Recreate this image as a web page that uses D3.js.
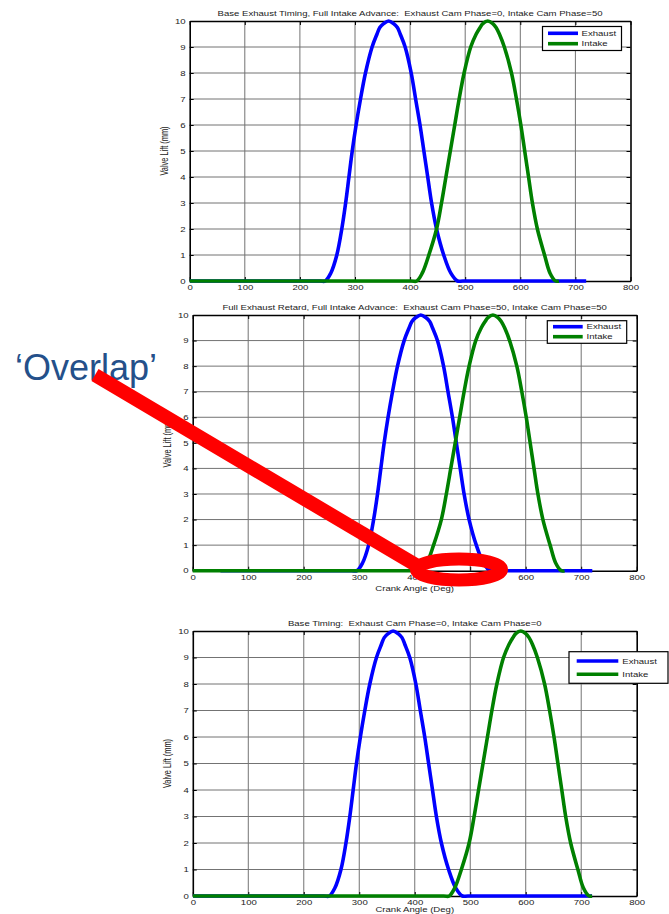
<!DOCTYPE html>
<html>
<head>
<meta charset="utf-8">
<script src="https://cdn.jsdelivr.net/npm/d3@7"></script>
<style>
  html, body { margin: 0; padding: 0; background: #fff; }
  svg { display: block; }
  text { font-family: "Liberation Sans", Arial, Helvetica, sans-serif; white-space: pre; }
</style>
</head>
<body>
<svg id="fig" width="669" height="914"></svg>
<script>
// Valve lift profiles at zero cam phase: crank angle (deg) and lift (mm)
const exhaustAngle = [0, 236, 246, 256, 267, 276, 283, 289, 295, 302, 310, 319, 331, 340, 345, 352, 361,
                      370, 377, 382, 391, 402, 410, 418, 425, 432, 439, 448, 461, 474, 486, 496, 720];
const exhaustLift  = [0, 0, 0, 0.3, 1, 2, 3, 4, 5, 6, 7, 8, 9, 9.5, 9.75, 9.9, 10,
                      9.9, 9.75, 9.5, 9, 8, 7, 6, 5, 4, 3, 2, 1, 0.3, 0, 0, 0];
const intakeAngle  = [0, 452, 462, 472, 484, 498, 507, 515, 523, 531, 539, 548, 560, 570, 577, 582, 591,
                      600, 606, 612, 621, 634, 643, 651, 658, 665, 672, 681, 694, 704, 714, 720];
const intakeLift   = [0, 0, 0, 0.3, 1, 2, 3, 4, 5, 6, 7, 8, 9, 9.5, 9.75, 9.9, 10,
                      9.9, 9.75, 9.5, 9, 8, 7, 6, 5, 4, 3, 2, 1, 0.3, 0, 0];

// One plot per cam phasing case
const plotTitles = [
  "Base Exhaust Timing, Full Intake Advance:  Exhaust Cam Phase=0, Intake Cam Phase=50",
  "Full Exhaust Retard, Full Intake Advance:  Exhaust Cam Phase=50, Intake Cam Phase=50",
  "Base Timing:  Exhaust Cam Phase=0, Intake Cam Phase=0"
];
const exhaustPhase = [0, 50, 0];   // retard shifts later
const intakePhase  = [50, 50, 0];  // advance shifts earlier
const showXLabel   = [false, true, true];

const seriesNames  = ["Exhaust", "Intake"];
const seriesColors = ["#0000ff", "#008000"];
const xTicks = [0, 100, 200, 300, 400, 500, 600, 700, 800];
const yTicks = [0, 1, 2, 3, 4, 5, 6, 7, 8, 9, 10];
const cycleEnd = 720;
const xLabel = "Crank Angle (Deg)";
const yLabel = "Valve Lift (mm)";

// Placement of each plot on the page
const layouts = [
  { l: 189.7, r: 630.5, t: 21,  b: 281,   xlab: 20, legend: { x: 542.5, y: 26.5,  w: 79,  h: 24,   lineY: [33.3, 43.7],   lx: 548,   lw: 30,   tx: 581.5 } },
  { l: 192.7, r: 636.7, t: 315, b: 570.7, xlab: 20, legend: { x: 547.3, y: 320.7, w: 79.4, h: 22.6, lineY: [326.7, 336.7], lx: 553,   lw: 29.7, tx: 586.5 } },
  { l: 192.8, r: 636.7, t: 631, b: 896,   xlab: 16, legend: { x: 569,   y: 651.7, w: 99,  h: 31.6, lineY: [661, 674.3],   lx: 576.7, lw: 41.6, tx: 622.3 } }
];

const stretch = 1.37;   // horizontal stretch of the plot lettering
const fontSize = 7;
const textColor = "#222";
const gridColor = "#737373";

const svg = d3.select("#fig");
svg.append("rect").attr("width", 669).attr("height", 914).attr("fill", "#fff");

function stretchedText(parent, x, y, str, anchor) {
  return parent.append("text")
    .attr("transform", `translate(${x},${y}) scale(${stretch},1)`)
    .attr("text-anchor", anchor || "middle")
    .attr("font-size", fontSize)
    .attr("fill", textColor)
    .text(str);
}

function drawPlot(i) {
  const L = layouts[i];
  const x = d3.scaleLinear().domain([0, 800]).range([L.l, L.r]);
  const y = d3.scaleLinear().domain([0, 10]).range([L.b, L.t]);
  const g = svg.append("g");

  // grid
  g.append("g").selectAll("line").data(xTicks.slice(1, -1)).join("line")
    .attr("x1", d => x(d)).attr("x2", d => x(d))
    .attr("y1", y(0)).attr("y2", y(10))
    .attr("stroke", gridColor).attr("stroke-width", 1);
  g.append("g").selectAll("line").data(yTicks.slice(1, -1)).join("line")
    .attr("y1", d => y(d)).attr("y2", d => y(d))
    .attr("x1", x(0)).attr("x2", x(800))
    .attr("stroke", gridColor).attr("stroke-width", 1);

  // axes box with inward ticks on all sides
  const tick = 4;
  const bottom = g.append("g").attr("transform", `translate(0,${L.b})`)
    .call(d3.axisBottom(x).tickValues(xTicks).tickSizeInner(-tick).tickSizeOuter(0).tickPadding(4.5));
  const top = g.append("g").attr("transform", `translate(0,${L.t})`)
    .call(d3.axisTop(x).tickValues(xTicks).tickSizeInner(-tick).tickSizeOuter(0).tickFormat(""));
  const left = g.append("g").attr("transform", `translate(${L.l},0)`)
    .call(d3.axisLeft(y).tickValues(yTicks).tickSizeInner(-tick).tickSizeOuter(0).tickPadding(4));
  const right = g.append("g").attr("transform", `translate(${L.r},0)`)
    .call(d3.axisRight(y).tickValues(yTicks).tickSizeInner(-tick).tickSizeOuter(0).tickFormat(""));

  [bottom, top, left, right].forEach(a => {
    a.select(".domain").attr("stroke", "#000").attr("stroke-width", 1.6);
    a.selectAll(".tick line").attr("stroke", "#000").attr("stroke-width", 1);
    a.selectAll("text").attr("font-size", fontSize).attr("fill", textColor)
      .attr("font-family", "'Liberation Sans', Arial, sans-serif");
  });
  bottom.selectAll(".tick text").attr("transform", `scale(${stretch},1)`);
  left.selectAll(".tick text").attr("x", -4 / stretch).attr("transform", `scale(${stretch},1)`);

  // lift curves, limited to one 720 degree cycle
  const clipId = "cycle" + i;
  g.append("clipPath").attr("id", clipId).append("rect")
    .attr("x", x(0)).attr("width", x(cycleEnd) - x(0))
    .attr("y", L.t - 8).attr("height", L.b - L.t + 16);

  const exhaust = exhaustAngle.map((a, k) => [a + exhaustPhase[i], exhaustLift[k]]);
  const intake  = intakeAngle.map((a, k) => [a - intakePhase[i], intakeLift[k]]);
  const line = d3.line().x(d => x(d[0])).y(d => y(d[1])).curve(d3.curveCatmullRom.alpha(0.5));

  const curves = g.append("g").attr("clip-path", `url(#${clipId})`);
  [exhaust, intake].forEach((pts, s) => {
    curves.append("path").datum(pts)
      .attr("d", line)
      .attr("fill", "none")
      .attr("stroke", seriesColors[s])
      .attr("stroke-width", 3.6)
      .attr("stroke-linejoin", "round");
  });

  // title and labels
  stretchedText(g, (L.l + L.r) / 2, L.t - 5, plotTitles[i]);
  g.append("text")
    .attr("transform", `translate(${L.l - 22},${(L.t + L.b) / 2}) scale(${stretch},1) rotate(-90)`)
    .attr("text-anchor", "middle")
    .attr("font-size", 7.4)
    .attr("fill", textColor)
    .text(yLabel);
  if (showXLabel[i]) {
    stretchedText(g, (L.l + L.r) / 2, L.b + L.xlab, xLabel);
  }

  // legend
  const lg = L.legend;
  const leg = g.append("g");
  leg.append("rect")
    .attr("x", lg.x).attr("y", lg.y).attr("width", lg.w).attr("height", lg.h)
    .attr("fill", "#fff").attr("stroke", "#000").attr("stroke-width", 1.2);
  seriesNames.forEach((name, s) => {
    leg.append("line")
      .attr("x1", lg.lx).attr("x2", lg.lx + lg.lw)
      .attr("y1", lg.lineY[s]).attr("y2", lg.lineY[s])
      .attr("stroke", seriesColors[s]).attr("stroke-width", 3.6);
    stretchedText(leg, lg.tx, lg.lineY[s] + 2.5, name, "start");
  });
}

[0, 1, 2].forEach(drawPlot);

// Annotation pointing at the valve overlap in the middle plot
const note = svg.append("g");
note.append("text")
  .attr("x", 15).attr("y", 380)
  .attr("font-size", 36)
  .attr("fill", "#24508a")
  .text("\u2018Overlap\u2019");
note.append("line")
  .attr("x1", 95).attr("y1", 375)
  .attr("x2", 421).attr("y2", 568)
  .attr("stroke", "#ff0000").attr("stroke-width", 14);
note.append("ellipse")
  .attr("cx", 459).attr("cy", 569.5)
  .attr("rx", 42.5).attr("ry", 10.5)
  .attr("fill", "none")
  .attr("stroke", "#ff0000").attr("stroke-width", 13);
</script>
</body>
</html>
